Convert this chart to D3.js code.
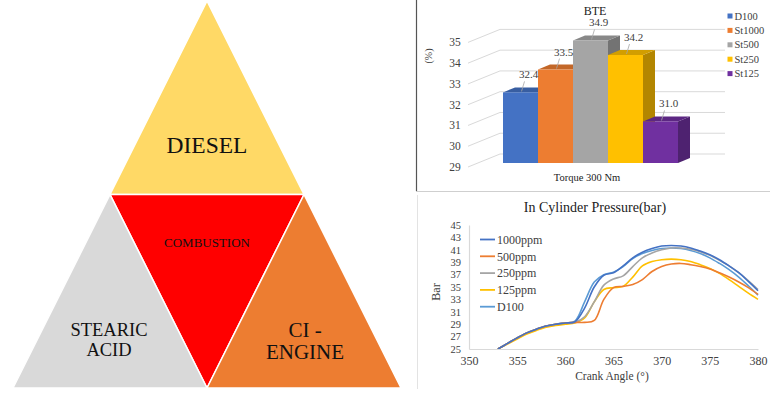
<!DOCTYPE html>
<html>
<head>
<meta charset="utf-8">
<script src="https://cdn.jsdelivr.net/npm/d3@7"></script>
<style>
  body { margin: 0; background: #fff; }
  svg { display: block; font-family: 'Liberation Serif', 'Times New Roman', serif; }
</style>
</head>
<body>
<svg id="chart" width="770" height="396"></svg>
<script>
// ---- diagram labels ----
const diagramLabels = [['DIESEL'], ['COMBUSTION'], ['STEARIC', 'ACID'], ['CI -', 'ENGINE']];
const diagramColors = ['#FFD966', '#FF0000', '#D9D9D9', '#ED7D31'];

// ---- BTE bar chart ----
const bteCategories = ['D100', 'St1000', 'St500', 'St250', 'St125'];
const bteValues = [32.4, 33.5, 34.9, 34.2, 31.0];
const bteColors = ['#4472C4', '#ED7D31', '#A5A5A5', '#FFC000', '#7030A0'];
const bteTicks = [29, 30, 31, 32, 33, 34, 35];

// ---- in-cylinder pressure ----
const crankAngles = [353, 354, 355, 356, 357, 358, 359, 360, 361, 362, 363, 364, 365, 366,
  367, 368, 369, 370, 371, 372, 373, 374, 375, 376, 377, 378, 379, 380];
const p1000 = [25.0, 25.9, 26.8, 27.6, 28.2, 28.7, 29.0, 29.2, 29.4, 31.6, 35.0, 36.9, 37.3, 38.4,
  39.7, 40.6, 41.2, 41.6, 41.7, 41.6, 41.3, 40.8, 40.2, 39.4, 38.4, 37.3, 35.9, 34.4];
const p500 = [25.0, 25.9, 26.8, 27.6, 28.2, 28.7, 29.0, 29.2, 29.3, 29.3, 29.6, 33.0, 34.9, 35.1,
  35.4, 36.2, 37.5, 38.3, 38.7, 38.8, 38.6, 38.3, 37.9, 37.3, 36.6, 35.8, 34.9, 33.8];
const p250 = [25.0, 25.9, 26.8, 27.6, 28.2, 28.7, 29.0, 29.2, 29.3, 30.2, 32.6, 35.3, 36.3, 36.8,
  38.3, 39.7, 40.5, 41.0, 41.3, 41.3, 41.1, 40.7, 40.1, 39.3, 38.4, 37.3, 36.0, 34.6];
const p125 = [25.0, 25.8, 26.6, 27.4, 28.0, 28.5, 28.8, 29.0, 29.2, 30.0, 32.6, 34.6, 34.9, 35.1,
  36.6, 38.4, 39.1, 39.4, 39.5, 39.4, 39.1, 38.6, 38.0, 37.2, 36.2, 35.1, 34.0, 33.0];
const pD100 = [25.0, 25.9, 26.8, 27.6, 28.2, 28.7, 29.0, 29.2, 29.5, 32.6, 35.8, 37.0, 37.4, 38.3,
  39.6, 40.4, 40.9, 41.2, 41.3, 41.2, 40.9, 40.4, 39.7, 38.8, 37.8, 36.6, 35.2, 33.7];
const pressureNames = ['1000ppm', '500ppm', '250ppm', '125ppm', 'D100'];
const pressureColors = ['#4472C4', '#ED7D31', '#A5A5A5', '#FFC000', '#5B9BD5'];
const pressureTicksY = [25, 27, 29, 31, 33, 35, 37, 39, 41, 43, 45];
const pressureTicksX = [350, 355, 360, 365, 370, 375, 380];

const svg = d3.select('#chart');

// ================= triangle diagram =================
const drawDiagram = () => {
  const apex = [207, 1];
  const bl = [13, 388];
  const br = [401, 388];
  const mid = (a, b) => [(a[0] + b[0]) / 2, (a[1] + b[1]) / 2];
  const mL = mid(apex, bl);
  const mR = mid(apex, br);
  const mB = mid(bl, br);
  const tris = [
    [apex, mL, mR],
    [mL, mR, mB],
    [mL, bl, mB],
    [mR, mB, br]
  ];
  const g = svg.append('g');
  g.selectAll('path')
    .data(tris)
    .enter()
    .append('path')
    .attr('d', d => 'M' + d.join('L') + 'Z')
    .attr('fill', (d, i) => diagramColors[i])
    .attr('stroke', '#fff')
    .attr('stroke-width', 1.5);

  // label anchors: centre x, first baseline, line step, font size
  const spots = [
    [207, 153, 0, 23.5],
    [207, 247, 0, 13],
    [109, 336, 19.5, 18.5],
    [305, 337, 22, 21]
  ];
  diagramLabels.forEach((lines, i) => {
    const s = spots[i];
    lines.forEach((t, j) => {
      g.append('text')
        .attr('x', s[0])
        .attr('y', s[1] + j * s[2])
        .attr('text-anchor', 'middle')
        .attr('font-size', s[3])
        .attr('fill', '#111')
        .text(t);
    });
  });
};

// ================= BTE 3D bars =================
const drawBTE = () => {
  const g = svg.append('g');
  g.append('line').attr('x1', 416.5).attr('x2', 416.5).attr('y1', 0).attr('y2', 191)
    .attr('stroke', '#555').attr('stroke-width', 1.2);
  g.append('line').attr('x1', 416).attr('x2', 770).attr('y1', 191.5).attr('y2', 191.5)
    .attr('stroke', '#cfcfcf');

  const yScale = d3.scaleLinear().domain([29, 35]).range([163, 38.4]);
  const xScale = d3.scaleBand().domain(bteCategories).range([503, 678]).padding(0);
  const dx = 12, dy = -5;

  // perspective gridlines
  bteTicks.forEach(v => {
    const y = yScale(v);
    g.append('path')
      .attr('d', `M468,${y + 4}L500,${y - 9}L725,${y - 9}`)
      .attr('fill', 'none')
      .attr('stroke', '#d9d9d9')
      .attr('stroke-width', 1);
    g.append('text')
      .attr('x', 455)
      .attr('y', y + 4)
      .attr('dy', '0.35em')
      .attr('text-anchor', 'middle')
      .attr('font-size', 11.5)
      .attr('fill', '#404040')
      .text(v);
  });

  const bars = g.selectAll('.bar')
    .data(bteValues)
    .enter()
    .append('g')
    .attr('class', 'bar');
  bars.each(function (v, i) {
    const el = d3.select(this);
    const x0 = xScale(bteCategories[i]);
    const x1 = x0 + xScale.bandwidth();
    const yt = yScale(v);
    const yb = yScale(29);
    const c = d3.color(bteColors[i]);
    el.append('path')
      .attr('d', `M${x1},${yt}L${x1 + dx},${yt + dy}L${x1 + dx},${yb + dy}L${x1},${yb}Z`)
      .attr('fill', c.darker(1.0));
    el.append('path')
      .attr('d', `M${x0},${yt}L${x0 + dx},${yt + dy}L${x1 + dx},${yt + dy}L${x1},${yt}Z`)
      .attr('fill', c.darker(0.55));
    el.append('rect')
      .attr('x', x0).attr('y', yt)
      .attr('width', xScale.bandwidth())
      .attr('height', yb - yt)
      .attr('fill', c);
  });

  // value labels with leader lines
  bteValues.forEach((v, i) => {
    const cx = xScale(bteCategories[i]) + xScale.bandwidth() / 2;
    const y = yScale(v);
    g.append('line')
      .attr('x1', cx + 1).attr('y1', y - 1)
      .attr('x2', cx + 4).attr('y2', y - 11)
      .attr('stroke', '#a6a6a6').attr('stroke-width', 0.8);
    g.append('text')
      .attr('x', cx + 8)
      .attr('y', y - 14)
      .attr('text-anchor', 'middle')
      .attr('font-size', 11)
      .attr('fill', '#404040')
      .text(v.toFixed(1));
  });

  g.append('text').attr('x', 595).attr('y', 15).attr('text-anchor', 'middle')
    .attr('font-size', 12).attr('fill', '#222').text('BTE');
  g.append('text').attr('transform', 'translate(428,56) rotate(-90)')
    .attr('text-anchor', 'middle').attr('dy', '0.35em')
    .attr('font-size', 10).attr('fill', '#404040').text('(%)');
  g.append('text').attr('x', 587).attr('y', 181).attr('text-anchor', 'middle')
    .attr('font-size', 10.5).attr('fill', '#222').text('Torque 300 Nm');

  const legend = g.append('g');
  bteCategories.forEach((name, i) => {
    const y = 16 + i * 14.4;
    legend.append('rect').attr('x', 727.5).attr('y', y - 2.5)
      .attr('width', 5).attr('height', 5).attr('fill', bteColors[i]);
    legend.append('text').attr('x', 734.5).attr('y', y).attr('dy', '0.35em')
      .attr('font-size', 10.5).attr('fill', '#404040').text(name);
  });
};

// ================= pressure lines =================
const drawPressure = () => {
  const g = svg.append('g');
  g.append('line').attr('x1', 417.5).attr('x2', 417.5).attr('y1', 195).attr('y2', 389)
    .attr('stroke', '#e3e3e3');

  const xScale = d3.scaleLinear().domain([350, 380]).range([469, 758]);
  const yScale = d3.scaleLinear().domain([25, 45]).range([349, 225]);

  const xAxis = d3.axisBottom(xScale).tickValues(pressureTicksX).tickSize(0).tickPadding(7);
  const yAxis = d3.axisLeft(yScale).tickValues(pressureTicksY).tickSize(0).tickPadding(8);

  const gx = g.append('g').attr('transform', 'translate(0,349)').call(xAxis);
  const gy = g.append('g').attr('transform', 'translate(469,0)').call(yAxis);
  [gx, gy].forEach(a => {
    a.select('.domain').attr('stroke', '#d9d9d9').attr('stroke-width', 1.2);
    a.selectAll('text')
      .attr('font-family', "'Liberation Serif', 'Times New Roman', serif")
      .attr('font-size', 12)
      .attr('fill', '#404040');
  });
  // y ticks sit only 12px apart, keep them a touch smaller so they do not collide
  gy.selectAll('text').attr('font-size', 10.5);

  g.append('clipPath').attr('id', 'plotClip')
    .append('rect').attr('x', 469).attr('y', 220).attr('width', 292).attr('height', 129);

  const series = [p1000, p500, p250, p125, pD100];
  const line = d3.line()
    .x((d, i) => xScale(crankAngles[i]))
    .y(d => yScale(d))
    .curve(d3.curveCatmullRom.alpha(0.5));

  const lines = g.append('g').attr('clip-path', 'url(#plotClip)');
  // draw in reverse so 1000ppm sits on top
  series.map((s, i) => i).reverse().forEach(i => {
    lines.append('path')
      .datum(series[i])
      .attr('d', line)
      .attr('fill', 'none')
      .attr('stroke', pressureColors[i])
      .attr('stroke-width', 1.6);
  });

  g.append('text').attr('x', 595).attr('y', 212).attr('text-anchor', 'middle')
    .attr('font-size', 14).attr('fill', '#222').text('In Cylinder Pressure(bar)');
  g.append('text').attr('transform', 'translate(436,292) rotate(-90)')
    .attr('text-anchor', 'middle').attr('dy', '0.35em')
    .attr('font-size', 12).attr('fill', '#404040').text('Bar');
  g.append('text').attr('x', 612).attr('y', 380).attr('text-anchor', 'middle')
    .attr('font-size', 11.5).attr('fill', '#404040').text('Crank Angle (°)');

  const legend = g.append('g');
  pressureNames.forEach((name, i) => {
    const y = 239.5 + i * 16.8;
    legend.append('line').attr('x1', 480).attr('x2', 495).attr('y1', y).attr('y2', y)
      .attr('stroke', pressureColors[i]).attr('stroke-width', 1.8);
    legend.append('text').attr('x', 497).attr('y', y).attr('dy', '0.35em')
      .attr('font-size', 12).attr('fill', '#404040').text(name);
  });
};

drawDiagram();
drawBTE();
drawPressure();
</script>
</body>
</html>
